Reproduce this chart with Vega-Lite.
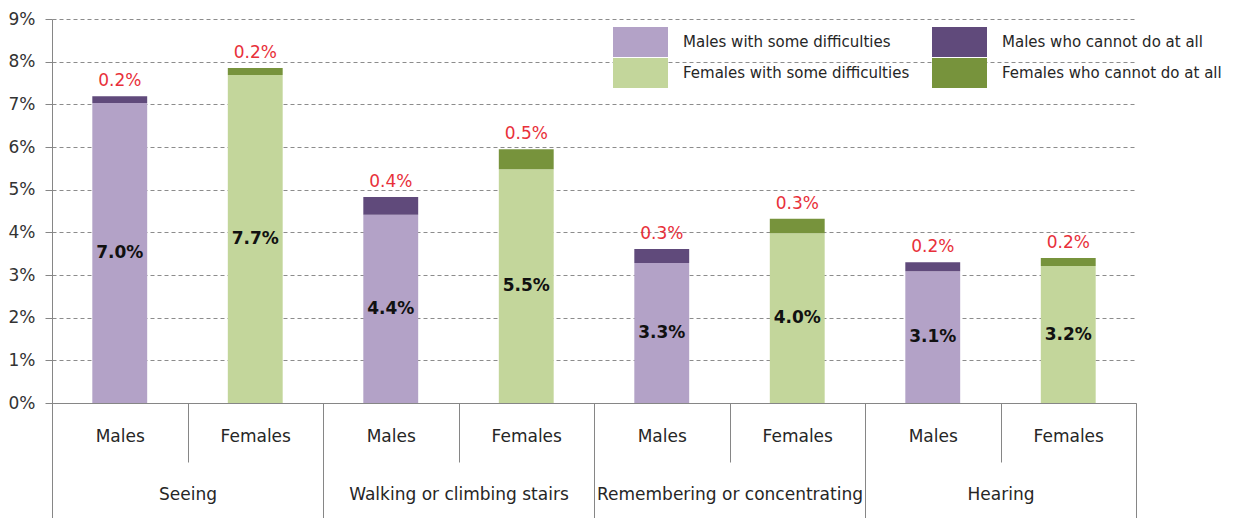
{
  "$schema": "https://vega.github.io/schema/vega-lite/v6.json",
  "width": 1084,
  "height": 384,
  "autosize": {"type": "none"},
  "padding": {"left": 52, "top": 19, "right": 99, "bottom": 115},
  "background": "white",
  "config": {"view": {"stroke": null}, "font": "DejaVu Sans"},
  "data": {"values": [
    {"group": "Seeing", "key": "Seeing|Males", "part": 1, "type": "Males with some difficulties", "value": 0.0703},
    {"group": "Seeing", "key": "Seeing|Males", "part": 2, "type": "Males who cannot do at all", "value": 0.0016},
    {"group": "Seeing", "key": "Seeing|Females", "part": 1, "type": "Females with some difficulties", "value": 0.0769},
    {"group": "Seeing", "key": "Seeing|Females", "part": 2, "type": "Females who cannot do at all", "value": 0.0016},
    {"group": "Walking or climbing stairs", "key": "Walking|Males", "part": 1, "type": "Males with some difficulties", "value": 0.0441},
    {"group": "Walking or climbing stairs", "key": "Walking|Males", "part": 2, "type": "Males who cannot do at all", "value": 0.0042},
    {"group": "Walking or climbing stairs", "key": "Walking|Females", "part": 1, "type": "Females with some difficulties", "value": 0.0548},
    {"group": "Walking or climbing stairs", "key": "Walking|Females", "part": 2, "type": "Females who cannot do at all", "value": 0.0047},
    {"group": "Remembering or concentrating", "key": "Remembering|Males", "part": 1, "type": "Males with some difficulties", "value": 0.0328},
    {"group": "Remembering or concentrating", "key": "Remembering|Males", "part": 2, "type": "Males who cannot do at all", "value": 0.0033},
    {"group": "Remembering or concentrating", "key": "Remembering|Females", "part": 1, "type": "Females with some difficulties", "value": 0.0398},
    {"group": "Remembering or concentrating", "key": "Remembering|Females", "part": 2, "type": "Females who cannot do at all", "value": 0.0034},
    {"group": "Hearing", "key": "Hearing|Males", "part": 1, "type": "Males with some difficulties", "value": 0.0309},
    {"group": "Hearing", "key": "Hearing|Males", "part": 2, "type": "Males who cannot do at all", "value": 0.0021},
    {"group": "Hearing", "key": "Hearing|Females", "part": 1, "type": "Females with some difficulties", "value": 0.0321},
    {"group": "Hearing", "key": "Hearing|Females", "part": 2, "type": "Females who cannot do at all", "value": 0.0019}
  ]},
  "transform": [
    {"stack": "value", "groupby": ["key"], "sort": [{"field": "part", "order": "ascending"}], "as": ["v0", "v1"]}
  ],
  "layer": [
    {
      "layer": [
        {
          "mark": {"type": "bar", "width": {"band": 0.405}},
          "encoding": {
            "x": {
              "field": "key", "type": "nominal", "sort": null,
              "scale": {"paddingInner": 0, "paddingOuter": 0},
              "axis": {
                "title": null, "orient": "bottom", "tickBand": "extent", "tickSize": 59,
                "tickColor": "#868686", "domainColor": "#868686", "grid": false,
                "labelExpr": "split(datum.label, '|')[1]", "labelPadding": -34,
                "labelFontSize": 17, "labelColor": "#262626", "labelAngle": 0,
                "labelLimit": 300, "labelOverlap": false
              }
            },
            "y": {
              "field": "v0", "type": "quantitative",
              "scale": {"domain": [0, 0.09], "nice": false},
              "axis": {
                "title": null, "values": [0, 0.01, 0.02, 0.03, 0.04, 0.05, 0.06, 0.07, 0.08, 0.09],
                "format": ".0%", "grid": true, "gridDash": [4, 3], "gridColor": "#8c8c8c",
                "domainColor": "#868686", "tickColor": "#868686", "tickSize": 7,
                "labelPadding": 10, "labelFontSize": 17, "labelColor": "#333333"
              }
            },
            "y2": {"field": "v1"},
            "color": {
              "field": "type", "type": "nominal",
              "scale": {
                "domain": ["Males with some difficulties", "Females with some difficulties", "Males who cannot do at all", "Females who cannot do at all"],
                "range": ["#B3A2C7", "#C3D69B", "#604A7B", "#77933C"]
              },
              "legend": {
                "title": null, "orient": "none", "legendX": 573.5, "legendY": 8, "columns": 2,
                "symbolType": "M-1.8333,-1H1.8333V1H-1.8333Z", "symbolSize": 900, "symbolStrokeWidth": 0,
                "symbolOpacity": 1, "labelFontSize": 15, "labelOffset": 27.5, "columnPadding": 22,
                "rowPadding": 1, "labelLimit": 300, "labelColor": "#262626"
              }
            }
          }
        },
        {
          "transform": [{"filter": "datum.part == 2"}],
          "mark": {"type": "text", "dy": -15, "color": "#E8303A", "fontSize": 17, "baseline": "middle"},
          "encoding": {
            "x": {"field": "key", "type": "nominal", "sort": null},
            "y": {"field": "v1", "type": "quantitative"},
            "text": {"field": "value", "type": "quantitative", "format": ".1%"}
          }
        },
        {
          "transform": [{"filter": "datum.part == 1"}, {"calculate": "(datum.v0 + datum.v1) / 2", "as": "mid"}],
          "mark": {"type": "text", "color": "#111111", "fontSize": 17, "fontWeight": "bold", "baseline": "middle"},
          "encoding": {
            "x": {"field": "key", "type": "nominal", "sort": null},
            "y": {"field": "mid", "type": "quantitative"},
            "text": {"field": "value", "type": "quantitative", "format": ".1%"}
          }
        }
      ]
    },
    {
      "mark": {"type": "text", "opacity": 0},
      "encoding": {
        "x": {
          "field": "group", "type": "nominal", "sort": null,
          "scale": {"paddingInner": 0, "paddingOuter": 0},
          "axis": {
            "title": null, "orient": "bottom", "domain": false, "tickBand": "extent", "tickSize": 115,
            "tickColor": "#868686", "labelPadding": -32, "labelAngle": 0, "labelFontSize": 17,
            "labelColor": "#262626", "labelLimit": 300, "labelOverlap": false
          }
        },
        "text": {"value": ""}
      }
    }
  ],
  "resolve": {"scale": {"x": "independent"}, "axis": {"x": "independent"}}
}
